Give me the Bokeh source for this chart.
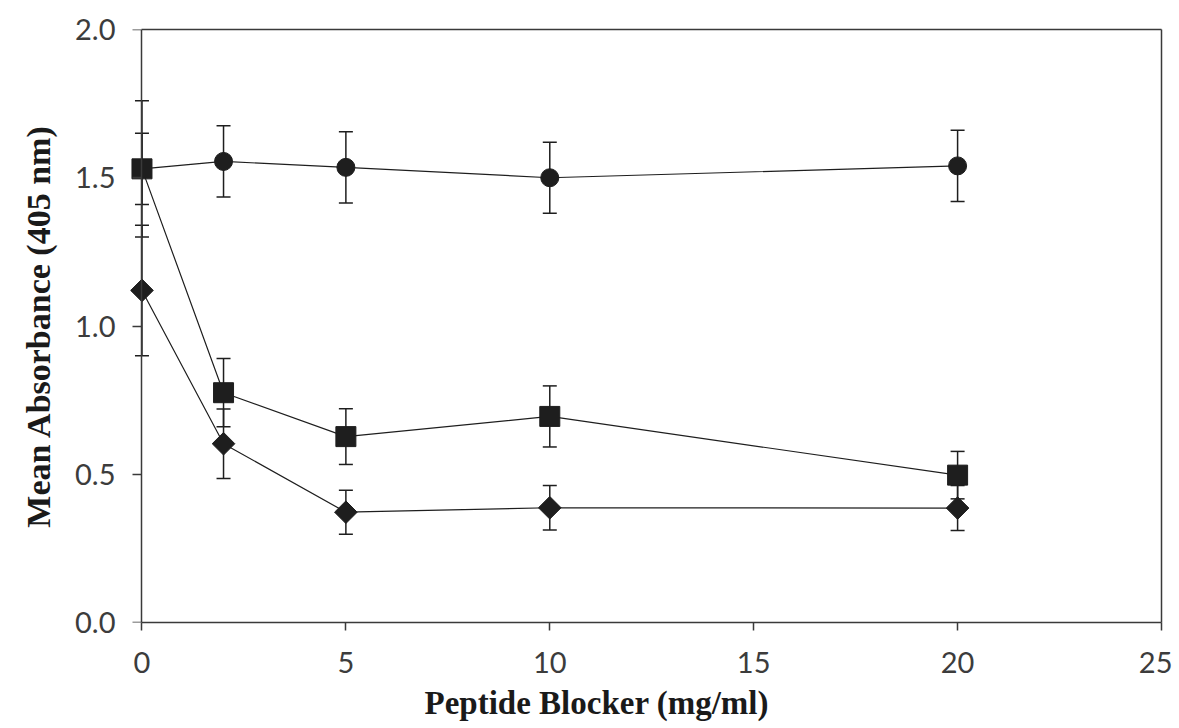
import numpy as np
from bokeh.plotting import figure
from bokeh.models import (ColumnDataSource, Whisker, TeeHead, FixedTicker, LinearAxis,
                          PrintfTickFormatter, CustomJSTickFormatter, Range1d, Title)
from bokeh.embed import file_html
from bokeh.resources import INLINE

# ---- data ----
conc = [0, 2, 5, 10, 20]
circle_mean = [1.53, 1.555, 1.535, 1.50, 1.54]
circle_err = [0.12, 0.12, 0.12, 0.12, 0.12]
square_mean = [1.53, 0.775, 0.627, 0.695, 0.497]
square_err = [0.23, 0.115, 0.094, 0.103, 0.08]
diamond_mean = [1.12, 0.603, 0.372, 0.387, 0.386]
diamond_err = [0.22, 0.117, 0.074, 0.075, 0.076]
x_ticks = [0, 5, 10, 15, 20, 25]
y_ticks = [0.0, 0.5, 1.0, 1.5, 2.0]
x_title = "Peptide Blocker (mg/ml)"
y_title = "Mean Absorbance (405 nm)"

INK = "#1e1e1e"
AXC = "#3a3a3a"
TICKFONT = "Lato"
TICKSIZE = "29px"
TICKCOL = "#3c3c3c"

p = figure(width=1172, height=728, output_backend="svg", toolbar_location=None,
           x_range=Range1d(-0.6, 25), y_range=Range1d(0, 2.0),
           min_border_left=117, min_border_right=11, min_border_top=29, min_border_bottom=106,
           x_axis_type=None, y_axis_type=None)
p.grid.visible = False
p.outline_line_color = None
p.background_fill_color = "white"

blank = CustomJSTickFormatter(code="return ''")

# bottom axis
xa = LinearAxis(ticker=FixedTicker(ticks=x_ticks), bounds=(0, 25))
xa.axis_line_color = AXC
xa.axis_line_width = 1.5
xa.major_tick_line_color = AXC
xa.major_tick_line_width = 1.5
xa.major_tick_out = 8
xa.major_tick_in = 0
xa.minor_tick_line_color = None
xa.major_label_text_font = TICKFONT
xa.major_label_text_font_size = TICKSIZE
xa.major_label_text_color = TICKCOL
xa.major_label_standoff = 21
p.add_layout(xa, "below")

# left tick labels (at the frame edge, next to the axis line)
yl = LinearAxis(ticker=FixedTicker(ticks=y_ticks), formatter=PrintfTickFormatter(format="%.1f"))
yl.axis_line_color = None
yl.major_tick_line_color = None
yl.minor_tick_line_color = None
yl.major_tick_out = 0
yl.major_tick_in = 0
yl.major_label_text_font = TICKFONT
yl.major_label_text_font_size = TICKSIZE
yl.major_label_text_color = TICKCOL
yl.major_label_standoff = 2
p.add_layout(yl, "left")

# y axis line and ticks, at x = 0
ya = LinearAxis(ticker=FixedTicker(ticks=y_ticks), bounds=(0, 2.0), formatter=blank)
ya.fixed_location = 0
ya.axis_line_color = AXC
ya.axis_line_width = 1.5
ya.major_tick_line_color = AXC
ya.major_tick_line_width = 1.5
ya.major_tick_out = 9
ya.major_tick_in = 0
ya.minor_tick_line_color = None
ya.major_label_standoff = 0
p.add_layout(ya, "left")

# top and right frame lines
for loc, bnd in (("above", (0, 25)), ("right", (0, 2.0))):
    ax = LinearAxis(bounds=bnd, ticker=FixedTicker(ticks=[]), formatter=blank)
    ax.axis_line_color = AXC
    ax.axis_line_width = 1.5
    ax.major_tick_line_color = None
    ax.minor_tick_line_color = None
    p.add_layout(ax, loc)

# axis titles
ytitle = Title(text=y_title, align="center",
               text_font="Liberation Serif", text_font_style="bold",
               text_font_size="34px", text_color="#1a1a1a")
xtitle = Title(text=x_title, align="left", offset=307,
               text_font="Liberation Serif", text_font_style="bold",
               text_font_size="33px", text_color="#1a1a1a")
if "standoff" in Title.properties():
    xtitle.standoff = 14
    ytitle.standoff = 32
p.add_layout(ytitle, "left")
p.add_layout(xtitle, "below")


def series(mean, err, marker, size, angle=0.0):
    src = ColumnDataSource(dict(x=conc, y=mean,
                                lo=[m - e for m, e in zip(mean, err)],
                                hi=[m + e for m, e in zip(mean, err)]))
    w = Whisker(source=src, base="x", upper="hi", lower="lo", dimension="height",
                line_color=INK, line_width=1.5,
                upper_head=TeeHead(size=14, line_color=INK, line_width=1.5),
                lower_head=TeeHead(size=14, line_color=INK, line_width=1.5))
    p.add_layout(w)
    p.line("x", "y", source=src, line_color=INK, line_width=1.2)
    p.scatter("x", "y", source=src, marker=marker, size=size, angle=angle,
              fill_color=INK, line_color=INK)


series(circle_mean, circle_err, "circle", 18)
series(diamond_mean, diamond_err, "square", 16, angle=np.pi / 4)
series(square_mean, square_err, "square", 20)

open("out.html", "w").write(file_html(p, INLINE))
